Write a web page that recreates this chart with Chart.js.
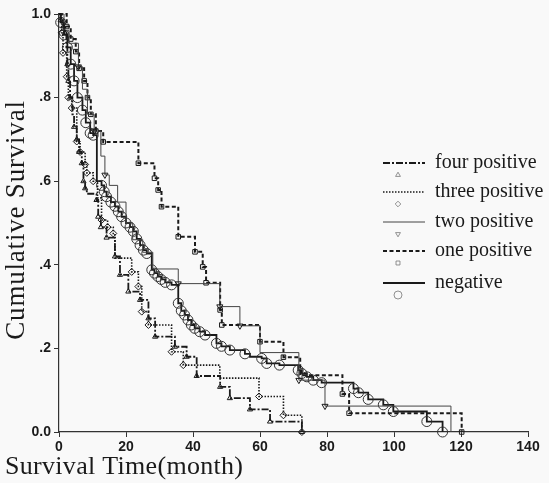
<!DOCTYPE html>
<html>
<head>
<meta charset="utf-8">
<script src="https://cdn.jsdelivr.net/npm/chart.js@4"></script>
<style>
  html, body { margin: 0; padding: 0; background: #f9f9f9; }
  canvas { display: block; }
</style>
</head>
<body>
<canvas id="survivalChart" width="549" height="483"></canvas>
<script>
// Kaplan-Meier steps: [month, survival after that time, censor mark 1/0]
const fourPositive = [
  [0, 1, 0], [0.5, .985, 1], [1.3, .97, 1], [1.8, .955, 1], [2.2, .92, 0], [2.5, .88, 1],
  [2.8, .84, 1], [3.3, .80, 1], [4, .76, 0], [4.5, .73, 1], [5.3, .70, 1], [6, .67, 1],
  [6.8, .643, 1], [7.3, .60, 1], [7.8, .583, 1], [8.3, .57, 0], [11.2, .555, 1], [11.7, .515, 1],
  [12.5, .49, 1], [14.2, .465, 1], [16.7, .42, 1], [18.2, .376, 1], [20.7, .336, 1], [24.2, .316, 1],
  [26.7, .272, 1], [28.7, .228, 1], [34.6, .204, 1], [38.1, .18, 1], [41.1, .134, 1], [48.1, .108, 1],
  [51, .081, 1], [57, .054, 1], [63, .025, 1], [72.5, 0, 1]
];
const threePositive = [
  [0, 1, 0], [0.8, .955, 1], [1.2, .907, 1], [2.3, .85, 1], [2.8, .80, 1], [3.8, .775, 1],
  [5.3, .695, 1], [6.3, .67, 1], [7.8, .64, 1], [8.3, .62, 1], [10.2, .60, 1], [11.5, .56, 0],
  [12.7, .507, 1], [14.5, .49, 1], [16.2, .475, 1], [16.7, .416, 0], [21.7, .383, 1], [23.7, .348, 1],
  [24.7, .288, 1], [26.7, .256, 1], [33.6, .192, 1], [37.1, .16, 1], [48, .129, 0], [59.7, .085, 1],
  [67, .04, 1], [72.5, 0, 1]
];
const twoPositive = [
  [0, 1, 0], [1.5, .96, 0], [3, .93, 0], [5.8, .874, 1], [7, .82, 0], [8.5, .76, 0],
  [10.5, .72, 1], [12.5, .66, 0], [13.7, .615, 1], [15, .59, 0], [17.5, .55, 0], [20, .50, 0],
  [22, .46, 0], [25, .43, 0], [28, .39, 0], [35.6, .355, 1], [48, .30, 1], [54, .254, 1],
  [60, .19, 0], [71.6, .124, 1], [79.4, .062, 1], [117, 0, 0]
];
const onePositive = [
  [0, 1, 0], [2.3, .97, 1], [3.5, .94, 1], [5, .91, 1], [6, .87, 1], [7.5, .84, 1],
  [8.5, .80, 1], [9.5, .76, 1], [11, .72, 1], [13.2, .694, 1], [23.7, .643, 1], [28.5, .607, 1],
  [29.6, .579, 1], [30.6, .539, 1], [35.6, .467, 1], [40.6, .431, 1], [42.9, .395, 1], [43.9, .357, 1],
  [48.1, .292, 1], [48.6, .256, 1], [60, .216, 1], [67, .179, 1], [72, .136, 0], [84.6, .091, 1],
  [86.6, .045, 1], [120.2, 0, 1]
];
const negative = [
  [0, 1, 0], [0.5, .98, 1], [1.5, .95, 1], [2.5, .92, 1], [3.5, .88, 1], [4.5, .84, 1],
  [5.5, .80, 1], [7, .77, 1], [8, .74, 1], [9.3, .715, 1], [10.2, .71, 1], [11.3, .60, 0],
  [12.7, .59, 1], [13.5, .575, 1], [14.2, .563, 1], [15.5, .55, 1], [16.7, .54, 1], [17.7, .527, 1],
  [18.7, .515, 1], [20, .50, 1], [21.2, .49, 1], [22.2, .48, 1], [23.2, .462, 1], [24.2, .447, 1],
  [25.2, .435, 1], [26.2, .427, 1], [27.7, .388, 1], [28.5, .38, 1], [29.5, .372, 1], [30.5, .365, 1],
  [31.7, .358, 1], [33.6, .352, 1], [35.6, .308, 1], [36.5, .29, 1], [37.5, .28, 1], [38.5, .268, 1],
  [39.5, .256, 1], [40.5, .248, 1], [42, .24, 1], [43.6, .232, 1], [47, .212, 1], [48.5, .205, 1],
  [51, .196, 1], [55.5, .187, 1], [57, .18, 0], [60.5, .176, 1], [62, .164, 1], [65.8, .16, 1],
  [71.4, .148, 1], [72.5, .14, 1], [74, .132, 1], [75.9, .124, 1], [78.4, .118, 1], [87.9, .104, 1],
  [89.4, .094, 1], [92.3, .078, 1], [96.8, .065, 1], [99.8, .049, 1], [109.8, .025, 1], [114.5, 0, 1]
];

const groupLabels = ['four positive', 'three positive', 'two positive', 'one positive', 'negative'];
const xTicks = [0, 20, 40, 60, 80, 100, 120, 140];
const yTickLabels = ['0.0', '.2', '.4', '.6', '.8', '1.0'];
const xTitle = 'Survival Time(month)';
const yTitle = 'Cumulative Survival';

const ink = '#1a1a1a';
const serif = '"Liberation Serif", "DejaVu Serif", serif';

function makeSet(label, rows, style) {
  return Object.assign({
    label: label,
    data: rows.map(r => ({ x: r[0], y: r[1] })),
    pointRadius: rows.map(r => r[2] ? style.markSize : 0),
    pointHoverRadius: 0,
    stepped: true,
    fill: false,
    clip: false,
    borderColor: ink,
    pointBorderColor: ink,
    pointBackgroundColor: 'rgba(255,255,255,0)',
    pointBorderWidth: 1,
    tension: 0
  }, style);
}

const datasets = [
  makeSet(groupLabels[0], fourPositive, { borderWidth: 1.8, borderDash: [7, 2, 2, 2], pointStyle: 'triangle', markSize: 3 }),
  makeSet(groupLabels[1], threePositive, { borderWidth: 1.6, borderDash: [1.5, 1.5], pointStyle: 'rectRot', markSize: 3.5 }),
  makeSet(groupLabels[2], twoPositive, { borderWidth: 1, borderDash: [], pointStyle: 'triangle', rotation: 180, markSize: 3.5, borderColor: '#444' }),
  makeSet(groupLabels[3], onePositive, { borderWidth: 2, borderDash: [4, 2.5], pointStyle: 'rect', markSize: 3.2 }),
  makeSet(groupLabels[4], negative, { borderWidth: 1.8, borderDash: [], pointStyle: 'circle', markSize: 5, pointBorderColor: '#333' })
];

// draws the axis titles and the legend (line with its marker under it)
const decorations = {
  id: 'decorations',
  afterDraw(chart) {
    const ctx = chart.ctx;
    ctx.save();
    ctx.fillStyle = ink;
    ctx.textBaseline = 'middle';
    ctx.textAlign = 'left';
    ctx.font = '26px ' + serif;
    ctx.letterSpacing = '0.3px';
    ctx.fillText(xTitle, 5, 467);

    ctx.save();
    ctx.translate(17, 220);
    ctx.rotate(-Math.PI / 2);
    ctx.textAlign = 'center';
    ctx.font = '27px ' + serif;
    ctx.letterSpacing = '0.8px';
    ctx.fillText(yTitle, 0, 0);
    ctx.restore();
    ctx.letterSpacing = '0px';

    const rows = [163, 192, 222, 251, 283];
    chart.data.datasets.forEach((ds, i) => {
      const y = rows[i];
      ctx.save();
      ctx.strokeStyle = ds.borderColor;
      ctx.lineWidth = ds.borderWidth;
      ctx.setLineDash(ds.borderDash);
      ctx.beginPath();
      ctx.moveTo(383, y);
      ctx.lineTo(425, y);
      ctx.stroke();
      ctx.restore();
      ctx.save();
      ctx.strokeStyle = '#777';
      ctx.fillStyle = 'rgba(0,0,0,0)';
      ctx.lineWidth = 0.8;
      Chart.helpers.drawPoint(ctx, {
        pointStyle: ds.pointStyle,
        rotation: ds.rotation || 0,
        radius: ds.pointStyle === 'circle' ? 4 : 2.8,
        borderWidth: 0.8
      }, 398, y + 12);
      ctx.restore();
      ctx.fillStyle = ink;
      ctx.font = '20px ' + serif;
      ctx.textAlign = 'left';
      ctx.textBaseline = 'middle';
      ctx.fillText(ds.label, 435, y);
    });
    ctx.restore();
  }
};

new Chart(document.getElementById('survivalChart'), {
  type: 'line',
  data: { datasets: datasets },
  options: {
    responsive: false,
    animation: false,
    devicePixelRatio: 1,
    layout: { padding: { top: 14, right: 21, left: 0, bottom: 0 } },
    plugins: {
      legend: { display: false },
      tooltip: { enabled: false }
    },
    scales: {
      x: {
        type: 'linear',
        min: 0,
        max: 140,
        afterFit: s => { s.height = 51; },
        afterBuildTicks: s => { s.ticks = xTicks.map(v => ({ value: v })); },
        border: { display: true, color: '#333', width: 1.2 },
        grid: { drawOnChartArea: false, drawTicks: true, tickLength: 5, color: '#333' },
        ticks: {
          color: ink,
          padding: 2,
          maxRotation: 0,
          font: { family: '"Liberation Sans", Arial, sans-serif', size: 14, weight: 'bold' }
        }
      },
      y: {
        min: 0,
        max: 1,
        afterFit: s => { s.width = 59; },
        afterBuildTicks: s => { s.ticks = yTickLabels.map((t, i) => ({ value: i * 0.2 })); },
        border: { display: true, color: '#333', width: 1.2 },
        grid: { drawOnChartArea: false, drawTicks: true, tickLength: 5, color: '#333' },
        ticks: {
          color: ink,
          padding: 3,
          font: { family: '"Liberation Sans", Arial, sans-serif', size: 14, weight: 'bold' },
          callback: (v, i) => yTickLabels[i]
        }
      }
    }
  },
  plugins: [decorations]
});
</script>
</body>
</html>
